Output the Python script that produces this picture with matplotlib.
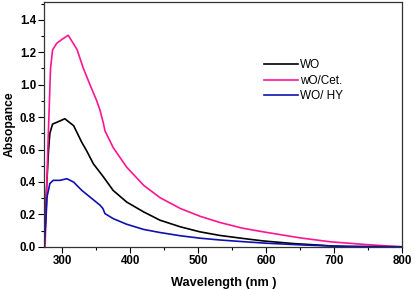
import matplotlib
matplotlib.use("Agg")
import matplotlib.pyplot as plt
from matplotlib.ticker import MultipleLocator, FormatStrFormatter

plt.rcParams['font.family'] = ['Liberation Sans', 'DejaVu Sans']

# WO
wo_nm = [274, 277, 280, 282, 286, 295, 304, 317, 329, 336, 346, 361, 375,
         395, 420, 444, 474, 503, 532, 565, 596, 640, 679, 700, 720, 800]
wo_abs = [0.0, 0.35, 0.59, 0.70, 0.757, 0.773, 0.790, 0.747, 0.644, 0.593,
          0.512, 0.43, 0.348, 0.276, 0.215, 0.164, 0.123, 0.092, 0.070,
          0.052, 0.036, 0.020, 0.010, 0.004, 0.0, 0.0]

# wO/Cet.
cet_nm = [275, 279, 283, 286, 292, 300, 309, 322, 331, 341, 351, 356, 361,
          363, 375, 395, 420, 444, 474, 503, 532, 565, 596, 650, 694, 743,
          782, 800]
cet_abs = [0.0, 0.6, 1.1, 1.214, 1.255, 1.28, 1.305, 1.217, 1.104, 1.0,
           0.90, 0.839, 0.757, 0.716, 0.613, 0.491, 0.379, 0.303, 0.236,
           0.188, 0.150, 0.115, 0.092, 0.055, 0.031, 0.015, 0.004, 0.0]

# WO/ HY
hy_nm = [274, 276, 278, 282, 287, 297, 307, 317, 329, 341, 356, 360, 363,
         375, 395, 420, 444, 474, 503, 532, 565, 600, 650, 694, 750, 800]
hy_abs = [0.02, 0.15, 0.31, 0.39, 0.41, 0.41, 0.42, 0.399, 0.348, 0.307,
          0.256, 0.236, 0.205, 0.174, 0.139, 0.107, 0.088, 0.068, 0.053,
          0.042, 0.032, 0.022, 0.012, 0.005, 0.002, 0.0]

fig = plt.figure(figsize=(4.15, 2.9), dpi=100)
ax = fig.add_axes([0.107, 0.149, 0.862, 0.844])

ax.plot(wo_nm, wo_abs, color='black', lw=1.2, label='WO')
ax.plot(cet_nm, cet_abs, color='#ff1493', lw=1.2, label='wO/Cet.')
ax.plot(hy_nm, hy_abs, color='#1010b0', lw=1.2, label='WO/ HY')

ax.set_xlim(274, 800)
ax.set_ylim(0, 1.51)
ax.xaxis.set_major_locator(MultipleLocator(100))
ax.xaxis.set_minor_locator(MultipleLocator(50))
ax.yaxis.set_major_locator(MultipleLocator(0.2))
ax.yaxis.set_minor_locator(MultipleLocator(0.1))
ax.yaxis.set_major_formatter(FormatStrFormatter('%.1f'))

ax.tick_params(which='major', direction='out', length=4, width=0.8,
               labelsize=8.3, pad=2)
ax.tick_params(which='minor', direction='out', length=2, width=0.8)
for lab in ax.get_xticklabels() + ax.get_yticklabels():
    lab.set_fontweight('bold')
for sp in ax.spines.values():
    sp.set_color('#333333')
    sp.set_linewidth(0.9)

ax.set_xlabel('Wavelength (nm )', fontsize=9.2, fontweight='bold',
              labelpad=7)
ax.set_ylabel('Absopance', fontsize=8.7, fontweight='bold', labelpad=3)

ax.legend(loc='upper left', bbox_to_anchor=(0.6, 0.785), frameon=False,
          fontsize=8.5, handlelength=2.9, handletextpad=0.2, labelspacing=0.28,
          borderaxespad=0)

fig.savefig('out.png', dpi=100)
